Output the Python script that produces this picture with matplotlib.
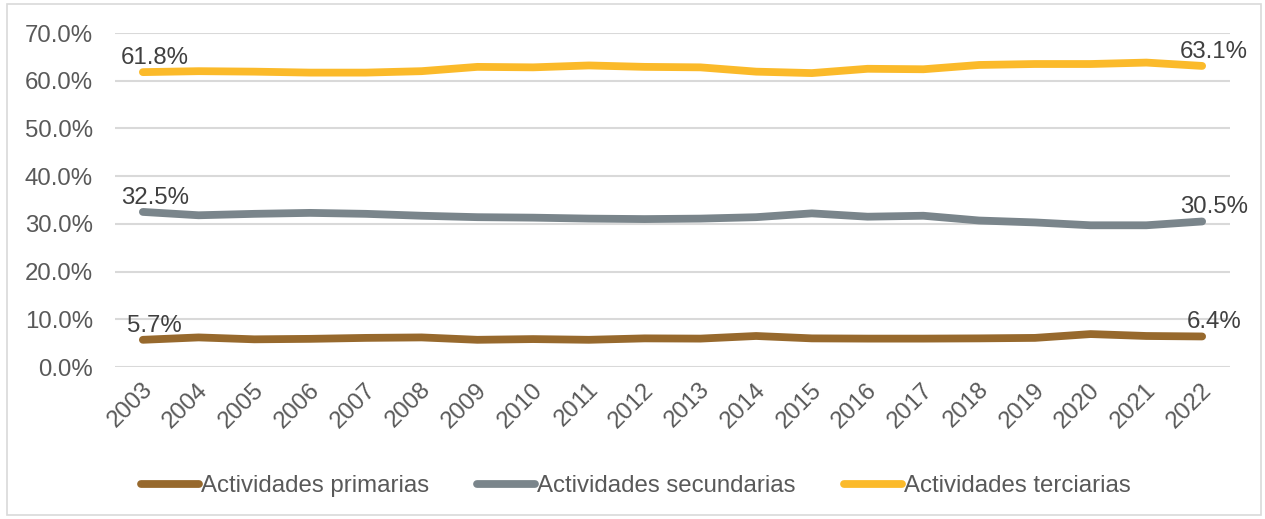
import matplotlib.pyplot as plt
from matplotlib.patches import Rectangle
import matplotlib.transforms as mtransforms

plt.rcParams['font.family'] = ['Liberation Sans', 'DejaVu Sans']

years = [str(y) for y in range(2003, 2023)]
primarias = [5.7, 6.2, 5.8, 5.9, 6.1, 6.2, 5.7, 5.85, 5.7, 6.0,
             5.95, 6.5, 6.0, 5.95, 5.95, 6.0, 6.1, 6.9, 6.5, 6.4]
secundarias = [32.5, 31.8, 32.1, 32.3, 32.1, 31.7, 31.4, 31.3, 31.1, 31.0,
               31.1, 31.4, 32.2, 31.5, 31.7, 30.7, 30.3, 29.7, 29.7, 30.5]
terciarias = [61.8, 62.0, 61.9, 61.7, 61.7, 62.0, 62.9, 62.8, 63.2, 62.9,
              62.8, 61.9, 61.6, 62.5, 62.4, 63.3, 63.5, 63.5, 63.8, 63.1]
series_names = ['Actividades primarias', 'Actividades secundarias', 'Actividades terciarias']
colors = ['#97692D', '#7A858B', '#FBBA2A']
yticks = [0, 10, 20, 30, 40, 50, 60, 70]

W, H = 1265, 519
FS = 17.3
fig = plt.figure(figsize=(W / 100, H / 100), dpi=100)
ax = fig.add_axes([115 / W, 1 - 367 / H, (1230 - 115) / W, (367 - 33) / H])

x = list(range(len(years)))
for vals, name, c in zip([primarias, secundarias, terciarias], series_names, colors):
    ax.plot(x, vals, color=c, lw=5.6, solid_capstyle='round', solid_joinstyle='round', label=name)
    for i in (0, len(x) - 1):
        ax.annotate(f'{vals[i]:.1f}%', (x[i], vals[i]), xytext=(12, 3),
                    textcoords='offset pixels', ha='center', va='bottom',
                    fontsize=FS, color='#404040')

ax.set_xlim(-0.5, len(x) - 0.5)
ax.set_ylim(0, 70)
ax.set_yticks(yticks)
ax.set_yticklabels([f'{v:.1f}%' for v in yticks])
ax.set_xticks(x)
ax.set_xticklabels(years, rotation=45, ha='right', va='center', rotation_mode='anchor')
ax.tick_params(axis='both', length=0, labelsize=FS, labelcolor='#595959')
ax.tick_params(axis='y', pad=16)
ax.tick_params(axis='x', pad=14)
offset = mtransforms.ScaledTranslation(6 / 100, 0, fig.dpi_scale_trans)
for lab in ax.get_xticklabels():
    lab.set_transform(lab.get_transform() + offset)

ax.grid(axis='y', color='#D9D9D9', lw=1.5)
ax.set_axisbelow(True)
for s in ax.spines.values():
    s.set_visible(False)

fig.legend(loc='center', bbox_to_anchor=(636 / W, 1 - 486 / H), ncol=3, frameon=False,
           fontsize=FS, labelcolor='#595959', handlelength=2.4, handletextpad=0.1,
           columnspacing=2.0)

fig.patches.append(Rectangle((7 / W, 4 / H), (1261 - 7) / W, (515 - 4) / H,
                             transform=fig.transFigure, fill=False,
                             edgecolor='#D9D9D9', lw=1.2))

fig.savefig('out.png', dpi=100, facecolor='white')
